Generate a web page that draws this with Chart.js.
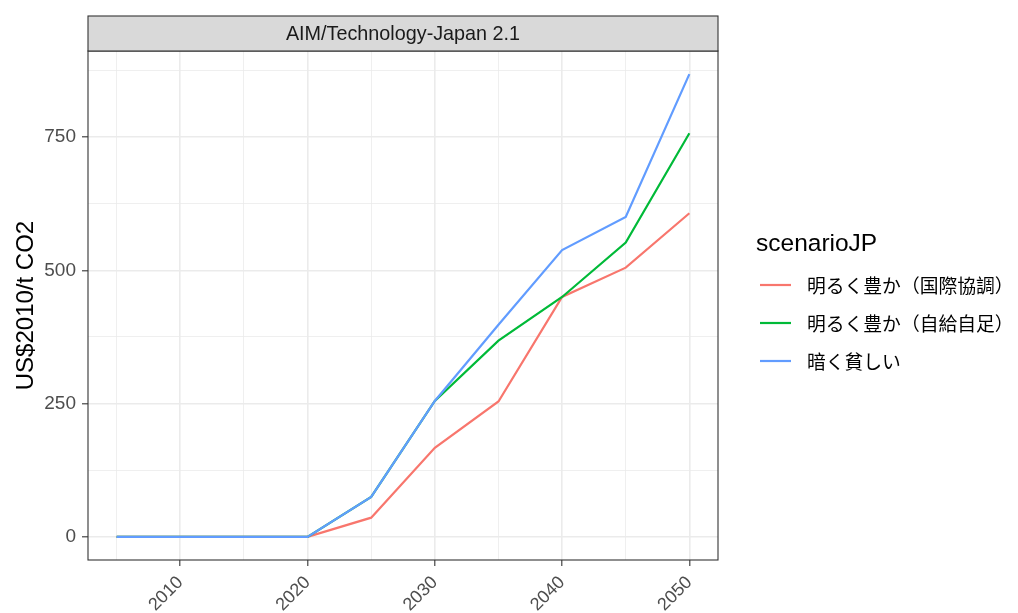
<!DOCTYPE html>
<html>
<head>
<meta charset="utf-8">
<script src="https://cdn.jsdelivr.net/npm/chart.js@4/dist/chart.umd.min.js"></script>
<style>
html,body{margin:0;padding:0;background:#fff;}
#c{display:block;}
</style>
</head>
<body>
<canvas id="c" width="1018" height="613"></canvas>
<script>
const years = [2005, 2010, 2015, 2020, 2025, 2030, 2035, 2040, 2045, 2050];
const seriesNames = ['明るく豊か（国際協調）', '明るく豊か（自給自足）', '暗く貧しい'];
const intlCoop = [0, 0, 0, 0, 36, 167, 254, 450, 505, 607];
const selfSuff = [0, 0, 0, 0, 75, 255, 368, 450, 552, 757];
const darkPoor = [0, 0, 0, 0, 75, 255, 398, 538, 600, 868];
const seriesColors = ['#F8766D', '#00BA38', '#619CFF'];
const xMajorTicks = [2010, 2020, 2030, 2040, 2050];
const xMinorTicks = [2005, 2015, 2025, 2035, 2045];
const yMajorTicks = [0, 250, 500, 750];
const yMinorTicks = [125, 375, 625, 875];
const facetTitle = 'AIM/Technology-Japan 2.1';
const legendTitle = 'scenarioJP';
const yTitle = 'US$2010/t CO2';

const FONT = "'Liberation Sans', Arial, sans-serif";
const CJK = "'Noto Sans CJK SC', 'Noto Sans CJK JP', sans-serif";

const allSeries = [intlCoop, selfSuff, darkPoor];
const datasets = allSeries.map((vals, i) => ({
  label: seriesNames[i],
  data: years.map((y, j) => ({x: y, y: vals[j]})),
  borderColor: seriesColors[i],
  backgroundColor: seriesColors[i],
  borderWidth: 2.2,
  pointRadius: 0,
  tension: 0,
  fill: false,
  order: allSeries.length - i
}));

const xMin = 2005 - 0.05 * (2050 - 2005);
const xMax = 2050 + 0.05 * (2050 - 2005);
const dMax = Math.max(...allSeries.flat());
const yMin = 0 - 0.05 * dMax;
const yMax = dMax + 0.05 * dMax;

const decor = {
  id: 'decor',
  afterDraw(chart) {
    const ctx = chart.ctx;
    const a = chart.chartArea;
    ctx.save();
    // panel border
    ctx.strokeStyle = '#333333';
    ctx.lineWidth = 1.1;
    ctx.strokeRect(a.left, a.top, a.right - a.left, a.bottom - a.top);
    // strip
    const sTop = 16, sH = a.top - sTop;
    ctx.fillStyle = '#D9D9D9';
    ctx.fillRect(a.left, sTop, a.right - a.left, sH);
    ctx.strokeRect(a.left, sTop, a.right - a.left, sH);
    ctx.fillStyle = '#1A1A1A';
    ctx.font = '19.8px ' + FONT;
    ctx.textAlign = 'center';
    ctx.textBaseline = 'middle';
    ctx.fillText(facetTitle, (a.left + a.right) / 2, sTop + sH / 2 + 1);
    // legend
    ctx.textAlign = 'left';
    ctx.fillStyle = '#000000';
    ctx.font = '24.5px ' + FONT;
    ctx.fillText(legendTitle, 756, 244);
    const ys = [285, 323, 361];
    chart.data.datasets.forEach((ds, i) => {
      ctx.strokeStyle = ds.borderColor;
      ctx.lineWidth = 2.2;
      ctx.beginPath();
      ctx.moveTo(760, ys[i]);
      ctx.lineTo(791, ys[i]);
      ctx.stroke();
      ctx.fillStyle = '#000000';
      ctx.font = '18.8px ' + CJK;
      ctx.fillText(ds.label, 807, ys[i] + 1);
    });
    ctx.restore();
  }
};

new Chart(document.getElementById('c'), {
  type: 'line',
  data: {datasets},
  plugins: [decor],
  options: {
    responsive: false,
    devicePixelRatio: 1,
    animation: false,
    layout: {padding: {top: 51, right: 300, left: 0, bottom: 0}},
    plugins: {legend: {display: false}, tooltip: {enabled: false}},
    scales: {
      x: {
        type: 'linear',
        min: xMin,
        max: xMax,
        afterBuildTicks(s) {
          s.ticks = [...xMinorTicks, ...xMajorTicks].sort((p, q) => p - q).map(v => ({value: v}));
        },
        afterFit(s) { s.height = 53; },
        border: {display: false},
        grid: {
          color: '#EBEBEB',
          lineWidth: c => xMajorTicks.includes(c.tick.value) ? 1.6 : 0.8,
          tickColor: c => xMajorTicks.includes(c.tick.value) ? '#333333' : 'rgba(0,0,0,0)',
          tickLength: 6,
          tickWidth: 1.1,
          drawTicks: true
        },
        ticks: {
          autoSkip: false,
          minRotation: 45,
          maxRotation: 45,
          padding: 6,
          color: '#4D4D4D',
          font: {family: FONT, size: 18},
          callback: v => xMajorTicks.includes(v) ? String(v) : ''
        }
      },
      y: {
        type: 'linear',
        min: yMin,
        max: yMax,
        afterBuildTicks(s) {
          s.ticks = [...yMajorTicks, ...yMinorTicks].sort((p, q) => p - q).map(v => ({value: v}));
        },
        afterFit(s) { s.width = 88; },
        border: {display: false},
        grid: {
          color: '#EBEBEB',
          lineWidth: c => yMajorTicks.includes(c.tick.value) ? 1.6 : 0.8,
          tickColor: c => yMajorTicks.includes(c.tick.value) ? '#333333' : 'rgba(0,0,0,0)',
          tickLength: 6,
          tickWidth: 1.1,
          drawTicks: true
        },
        ticks: {
          autoSkip: false,
          padding: 6,
          color: '#4D4D4D',
          font: {family: FONT, size: 19},
          callback: v => yMajorTicks.includes(v) ? String(v) : ''
        },
        title: {
          display: true,
          text: yTitle,
          color: '#000000',
          font: {family: FONT, size: 24},
          padding: {top: 12, bottom: 0}
        }
      }
    }
  }
});
</script>
</body>
</html>
